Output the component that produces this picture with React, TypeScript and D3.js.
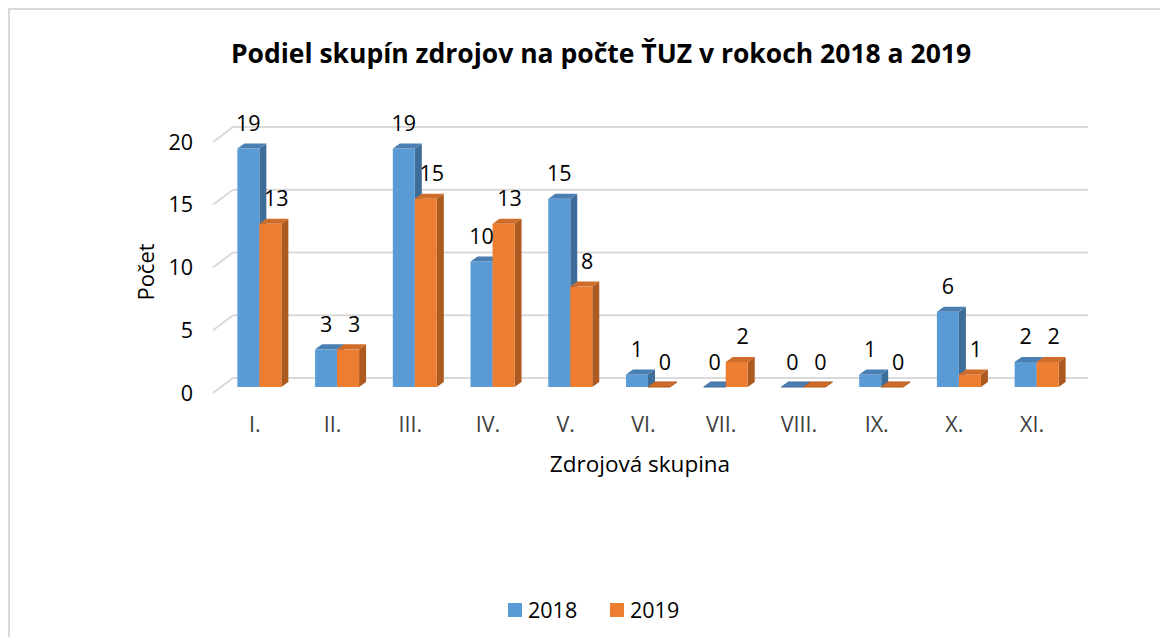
import React from "react";
import * as d3 from "d3";

const categories = ["I.", "II.", "III.", "IV.", "V.", "VI.", "VII.", "VIII.", "IX.", "X.", "XI."];
const values2018 = [19, 3, 19, 10, 15, 1, 0, 0, 1, 6, 2];
const values2019 = [13, 3, 15, 13, 8, 0, 2, 0, 0, 1, 2];
const yTicks = [0, 5, 10, 15, 20];
const seriesNames = ["2018", "2019"];

const W = 1160;
const H = 637;
const FONT = "'Open Sans', 'Noto Sans', sans-serif";
const FS = 21.5;

const palette = [
  { front: "#5b9bd5", top: "#4a7fb3", side: "#3f6d9a" },
  { front: "#ed7d31", top: "#cf6c29", side: "#ad5a20" },
];

export default function App() {
  const x = d3.scaleBand<string>().domain(categories).range([213, 1068]).padding(0);
  const y = d3.scaleLinear().domain([0, 20]).range([393, 142]);
  const depth = { dx: 20, dy: -15 };
  const barOff = { dx: 7.5, dy: -6 };
  const barDepth = { dx: 7, dy: -5 };
  const barW = 22;

  const series = [values2018, values2019];

  const bars: React.ReactNode[] = [];
  const labels: React.ReactNode[] = [];
  categories.forEach((c, i) => {
    const cx = (x(c) as number) + x.bandwidth() / 2;
    series.forEach((vals, s) => {
      const v = vals[i];
      const col = palette[s];
      const x0 = cx - barW + s * barW + barOff.dx;
      const x1 = x0 + barW;
      const yb = y(0) + barOff.dy;
      const yt = y(v) + barOff.dy;
      const h = Math.max(yb - yt, 0);
      const top = `M${x0},${yt} L${x0 + barDepth.dx},${yt + barDepth.dy} L${x1 + barDepth.dx},${yt + barDepth.dy} L${x1},${yt} Z`;
      const side = `M${x1},${yt} L${x1 + barDepth.dx},${yt + barDepth.dy} L${x1 + barDepth.dx},${yb + barDepth.dy} L${x1},${yb} Z`;
      bars.push(
        <g key={`b${i}-${s}`}>
          {h > 0 && <path d={side} fill={col.side} />}
          {h > 0 && <rect x={x0} y={yt} width={barW} height={h} fill={col.front} />}
          <path d={top} fill={col.top} stroke={h > 0 ? "none" : col.side} strokeWidth={h > 0 ? 0 : 1} />
        </g>
      );
      labels.push(
        <text
          key={`l${i}-${s}`}
          x={(x0 + x1) / 2 + (s === 1 ? 6 : 0)}
          y={yt - 17.5}
          textAnchor="middle"
          fontSize={FS}
          fontFamily={FONT}
          fill="#000"
        >
          {v}
        </text>
      );
    });
  });

  const xL = 213;
  const xR = 1068;

  return (
    <svg
      width={W}
      height={H}
      style={{ position: "absolute", left: 0, top: 0, background: "#fff" }}
    >
      <rect x={0} y={0} width={W} height={H} fill="#fff" />
      <rect x={9} y={9} width={W + 20} height={H + 20} fill="none" stroke="#d9d9d9" strokeWidth={2} />
      <text
        x={601}
        y={63}
        textAnchor="middle"
        fontSize={26.5}
        fontWeight="bold"
        fontFamily={FONT}
        fill="#000"
      >
        Podiel skupín zdrojov na počte ŤUZ v rokoch 2018 a 2019
      </text>

      {yTicks.map((t) => (
        <g key={`g${t}`} stroke="#d9d9d9" strokeWidth={2} fill="none">
          <line x1={xL} y1={y(t)} x2={xL + depth.dx} y2={y(t) + depth.dy} />
          <line x1={xL + depth.dx} y1={y(t) + depth.dy} x2={xR + depth.dx} y2={y(t) + depth.dy} />
        </g>
      ))}

      {yTicks.map((t) => (
        <text
          key={`t${t}`}
          x={193}
          y={y(t) + 7.5}
          textAnchor="end"
          fontSize={FS}
          fontFamily={FONT}
          fill="#000"
        >
          {t}
        </text>
      ))}

      {bars}
      {labels}

      {categories.map((c) => (
        <text
          key={`c${c}`}
          x={(x(c) as number) + x.bandwidth() / 2 + 3}
          y={432}
          textAnchor="middle"
          fontSize={FS}
          fontFamily={FONT}
          fill="#404040"
        >
          {c}
        </text>
      ))}

      <text x={640} y={472} textAnchor="middle" fontSize={22.5} fontFamily={FONT} fill="#000">
        Zdrojová skupina
      </text>
      <text
        transform="translate(154,272) rotate(-90)"
        textAnchor="middle"
        fontSize={22}
        fontFamily={FONT}
        fill="#000"
      >
        Počet
      </text>

      {seriesNames.map((n, i) => (
        <g key={`lg${n}`} transform={`translate(${508 + i * 102},603)`}>
          <rect x={0} y={0} width={14} height={14} fill={palette[i].front} />
          <text x={20} y={14.5} fontSize={FS} fontFamily={FONT} fill="#000">
            {n}
          </text>
        </g>
      ))}
    </svg>
  );
}
